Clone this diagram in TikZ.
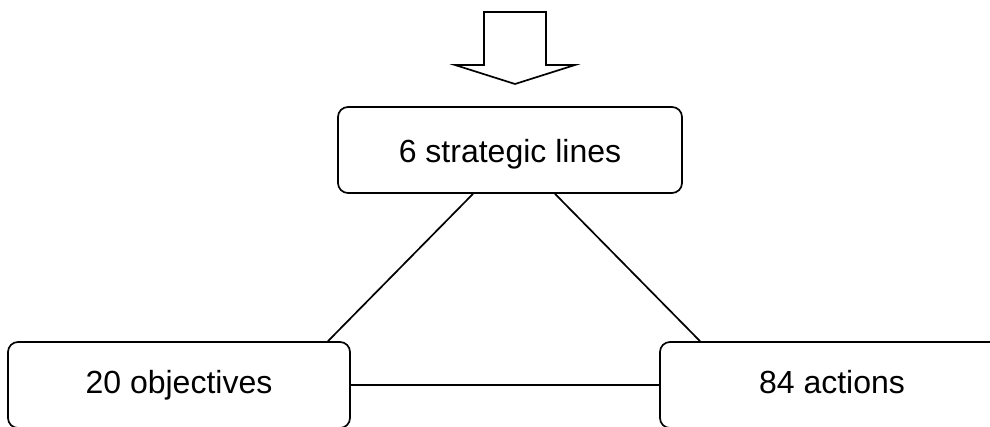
\documentclass[tikz,border=0pt]{standalone}
\usepackage{fontspec}
\setmainfont{Liberation Sans}
\begin{document}
\begin{tikzpicture}[x=1pt,y=1pt,
  box/.style={draw, line width=1.7pt, rounded corners=10pt, minimum width=344pt, minimum height=86pt, inner sep=0pt, text height=23pt, text depth=7pt, font=\fontsize{32}{38}\selectfont},
  link/.style={line width=1.7pt}]
\useasboundingbox (0,0) rectangle (990,426);
\node[box, text height=30pt, text depth=4pt] (top) at (510,276) {6 strategic lines};
\node[box, minimum width=342pt] (left) at (179,41) {20 objectives};
\node[box] (right) at (832,41) {84 actions};
\draw[link, line join=miter] (484,414) -- (546,414) -- (546,361) -- (575,361) -- (515,342) -- (455,361) -- (484,361) -- cycle;
\draw[link] ([xshift=-37pt]top.south) -- ([xshift=149pt]left.north);
\draw[link] ([xshift=45pt]top.south) -- ([xshift=-132pt]right.north);
\draw[link] (left.east) -- (right.west);
\end{tikzpicture}
\end{document}
